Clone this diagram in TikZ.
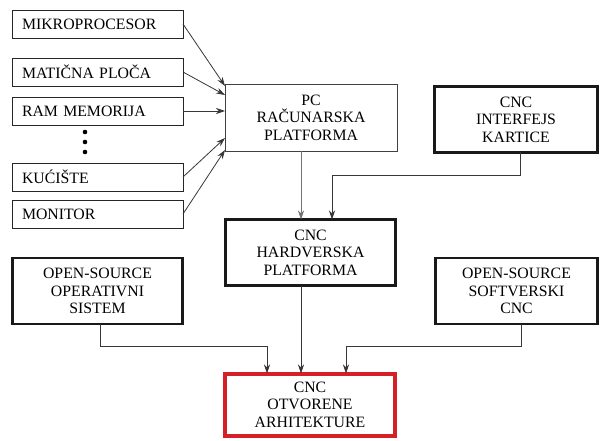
\documentclass[tikz,border=0pt]{standalone}
\usepackage{fontspec}
\setmainfont{Liberation Serif}
\newfontfamily\tnr{Liberation Serif}
\usetikzlibrary{arrows.meta,calc}
\definecolor{redbox}{RGB}{214,32,40}
\definecolor{lineg}{RGB}{55,55,55}
\begin{document}
\begin{tikzpicture}[x=1pt,y=-1pt,
  every node/.style={font=\tnr\fontsize{15.8}{17.5}\selectfont, inner sep=0pt, outer sep=0pt},
  leftbox/.style={draw=black!85, line width=0.8pt, minimum width=171pt, minimum height=28pt, text width=151pt, align=left},
  thinbox/.style={draw=black!75, line width=0.8pt, minimum width=172pt, minimum height=67pt, align=center},
  thickbox/.style={draw=black!90, line width=2.6pt, minimum height=66pt, align=center},
  redbx/.style={draw=redbox, line width=4pt, minimum width=170pt, minimum height=62pt, align=center},
  conn/.style={draw=lineg, line width=0.8pt, -{Stealth[length=9pt,width=6pt]}}
]
\useasboundingbox (0,0) rectangle (600,441);
\fill[white] (0,0) rectangle (600,441);

\node[leftbox] (mikro) at (97.5,24) {MIKROPROCESOR};
\node[leftbox] (maticna) at (97.5,72) {MATIČNA PLOČA};
\node[leftbox] (ram) at (97.5,111) {RAM MEMORIJA};
\node[leftbox] (kuciste) at (97.5,177) {KUĆIŠTE};
\node[leftbox] (monitor) at (97.5,214) {MONITOR};

\fill (85,132) circle (2.3pt);
\fill (85,142) circle (2.3pt);
\fill (85,152) circle (2.3pt);

\node[thinbox] (pc) at (311,117.5) {PC\\RAČUNARSKA\\PLATFORMA};
\node[thickbox, minimum width=163pt] (kartice) at (516,119.5) {CNC\\INTERFEJS\\KARTICE};
\node[thickbox, minimum width=170pt] (hw) at (310.5,252.5) {CNC\\HARDVERSKA\\PLATFORMA};
\node[thickbox, minimum width=170pt] (os) at (97.5,291) {OPEN-SOURCE\\OPERATIVNI\\SISTEM};
\node[thickbox, minimum width=162pt] (soft) at (516.5,291) {OPEN-SOURCE\\SOFTVERSKI\\CNC};
\node[redbx] (cnc) at (310,404.5) {CNC\\OTVORENE\\ARHITEKTURE};

\coordinate (p1) at ($(pc.north west)+(0,2)$);
\coordinate (p2) at ($(pc.north west)+(0,11)$);
\coordinate (p3) at (pc.west |- ram.east);
\coordinate (p4) at ($(pc.south west)+(0,-13)$);
\coordinate (p5) at ($(pc.south west)+(0,-1)$);
\draw[conn] (mikro.east) -- (p1);
\draw[conn] (maticna.east) -- (p2);
\draw[conn] (ram.east) -- (p3);
\draw[conn] (kuciste.east) -- (p4);
\draw[conn] (monitor.east) -- (p5);

\draw[conn, draw=black!55] (pc.south -| 301,0) -- (hw.north -| 301,0);
\coordinate (k1) at (520,175);
\draw[conn] (kartice.south -| k1) -- (k1) -- (332,175) -- (hw.north -| 332,0);

\draw[conn] (os.south -| 100,0) -- (100,346) -- (267,346) -- (cnc.north -| 267,0);
\draw[conn] (soft.south -| 521,0) -- (521,346) -- (346,346) -- (cnc.north -| 346,0);
\draw[conn] (hw.south -| 301,0) -- (cnc.north -| 301,0);
\end{tikzpicture}
\end{document}
